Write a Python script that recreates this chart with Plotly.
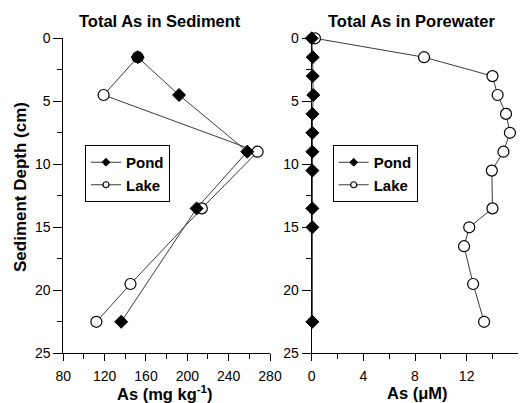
import plotly.graph_objects as go

# ---- data ----
sed_pond_depth = [1.5, 4.5, 9.0, 13.5, 22.5]
sed_pond_as = [152, 192, 258, 209, 136]
sed_lake_depth = [1.5, 4.5, 9.0, 13.5, 19.5, 22.5]
sed_lake_as = [152, 119, 268, 214, 145, 112]

pw_pond_depth = [0, 1.5, 3, 4.5, 6, 7.5, 9, 10.5, 13.5, 15, 22.5]
pw_pond_as = [0.0, 0.08, 0.08, 0.12, 0.06, 0.05, 0.05, 0.05, 0.05, 0.05, 0.05]
pw_lake_depth = [0, 1.5, 3, 4.5, 6, 7.5, 9, 10.5, 13.5, 15, 16.5, 19.5, 22.5]
pw_lake_as = [0.25, 8.7, 14.0, 14.4, 15.05, 15.35, 14.85, 13.95, 14.0, 12.2, 11.8, 12.5, 13.35]

sed_xticks = [80, 120, 160, 200, 240, 280]
pw_xticks = [0, 4, 8, 12, 16]
depth_ticks = [0, 5, 10, 15, 20, 25]

FONT = "Liberation Sans, Arial, sans-serif"
LINE_COLOR = "#3a3a3a"

# page body has an 8px margin; figure is sized so that it fills the 526x403 window
OFF = 8
W, H = 526 - OFF, 403 - OFF


def X(px):
    return (px - OFF) / W


def Y(py):
    return 1 - (py - OFF) / H


fig = go.Figure()

LAKE_MARKER = dict(symbol="circle", color="white", line=dict(color="black", width=1.2))
POND_MARKER = dict(symbol="diamond", color="black", line=dict(color="black", width=1))


def add_pair(xp, yp, xl, yl, xa, ya, legend):
    fig.add_trace(go.Scatter(
        x=xl, y=yl, name="Lake", mode="lines+markers", xaxis=xa, yaxis=ya,
        showlegend=False, cliponaxis=False,
        line=dict(color=LINE_COLOR, width=1),
        marker=dict(size=11, **LAKE_MARKER)))
    fig.add_trace(go.Scatter(
        x=xp, y=yp, name="Pond", mode="lines+markers", xaxis=xa, yaxis=ya,
        showlegend=False, cliponaxis=False,
        line=dict(color=LINE_COLOR, width=1),
        marker=dict(size=10, **POND_MARKER)))
    # legend entries (smaller symbols, as in the reference legend box)
    fig.add_trace(go.Scatter(
        x=[None], y=[None], name="Pond", mode="lines+markers", xaxis=xa, yaxis=ya,
        legend=legend, line=dict(color=LINE_COLOR, width=1),
        marker=dict(size=6, **POND_MARKER)))
    fig.add_trace(go.Scatter(
        x=[None], y=[None], name="Lake", mode="lines+markers", xaxis=xa, yaxis=ya,
        legend=legend, line=dict(color=LINE_COLOR, width=1),
        marker=dict(size=6, **LAKE_MARKER)))


add_pair(sed_pond_as, sed_pond_depth, sed_lake_as, sed_lake_depth, "x", "y", "legend")
add_pair(pw_pond_as, pw_pond_depth, pw_lake_as, pw_lake_depth, "x2", "y2", "legend2")

axis_common = dict(
    showgrid=False, zeroline=False, showline=True, linecolor="black", linewidth=1,
    ticks="outside", tickcolor="black", tickwidth=1,
    tickfont=dict(family=FONT, size=14, color="black"), automargin=False,
)
xminor = dict(ticks="outside", ticklen=5, tickcolor="black")
yminor = dict(ticks="outside", ticklen=5, tickcolor="black")

legend_common = dict(
    xanchor="left", yanchor="top", bordercolor="black", borderwidth=1, bgcolor="white",
    traceorder="normal", itemsizing="trace",
    font=dict(family=FONT, size=15, color="black", weight="bold"),
)

fig.update_layout(
    width=W, height=H,
    margin=dict(l=0, r=0, t=0, b=0),
    paper_bgcolor="white", plot_bgcolor="white",
    font=dict(family=FONT, color="black"),
    xaxis=dict(domain=[X(63.3), X(270)], range=[80, 280], tickvals=sed_xticks,
               ticklen=7, ticklabelstandoff=3,
               minor=dict(dtick=20, tick0=80, **xminor),
               anchor="y", **axis_common),
    yaxis=dict(domain=[Y(353.3), Y(38.3)], range=[25, 0], tickvals=depth_ticks,
               ticklen=9, minor=dict(dtick=2.5, tick0=0, **yminor),
               anchor="x", **axis_common),
    xaxis2=dict(domain=[X(311.7), X(518.3)], range=[0, 16], tickvals=pw_xticks,
                ticklen=7, ticklabelstandoff=3,
                minor=dict(dtick=2, tick0=0, **xminor),
                anchor="y2", **axis_common),
    yaxis2=dict(domain=[Y(353.3), Y(38.3)], range=[25, 0], tickvals=depth_ticks,
                ticklen=9, minor=dict(dtick=2.5, tick0=0, **yminor),
                anchor="x2", **axis_common),
    legend=dict(x=X(85), y=Y(145), **legend_common),
    legend2=dict(x=X(332.7), y=Y(145), **legend_common),
)

title_font = dict(family=FONT, size=16.5, color="black", weight="bold")
annots = [
    dict(text="Total As in Sediment", x=X(160), y=Y(21)),
    dict(text="Total As in Porewater", x=X(411.7), y=Y(21)),
    dict(text="As (mg kg<sup>-1</sup>)", x=X(165), y=Y(393)),
    dict(text="As (\u03bcM)", x=X(417.5), y=Y(393)),
]
for a in annots:
    fig.add_annotation(xref="paper", yref="paper", showarrow=False,
                       xanchor="center", yanchor="middle", font=title_font, **a)
fig.add_annotation(text="Sediment Depth (cm)", x=X(20), y=Y(187), textangle=-90,
                   xref="paper", yref="paper", showarrow=False,
                   xanchor="center", yanchor="middle",
                   font=dict(family=FONT, size=17, color="black", weight="bold"))

fig.write_html("out.html")
